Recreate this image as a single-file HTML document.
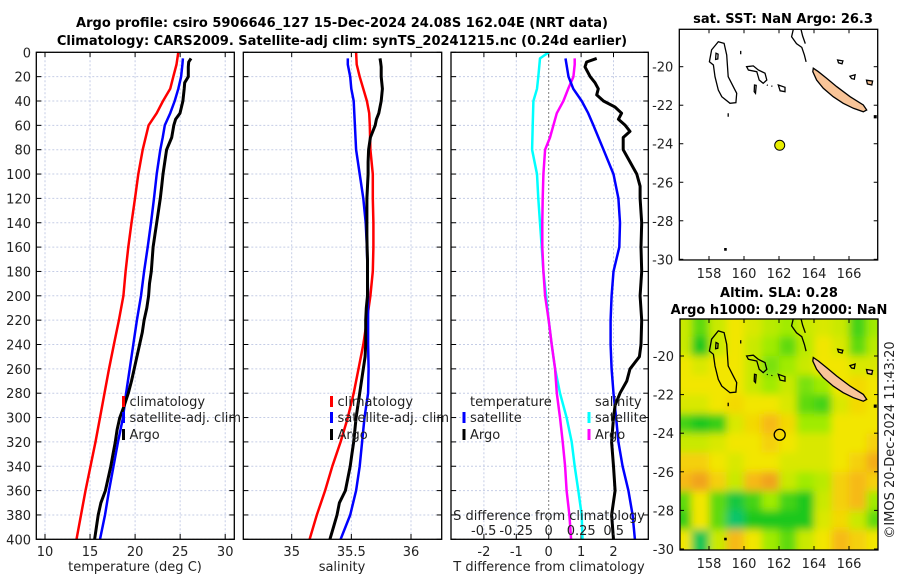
<!DOCTYPE html>
<html><head><meta charset="utf-8"><style>
html,body{margin:0;padding:0;background:#fff}
svg{display:block;font-family:"DejaVu Sans","Liberation Sans",sans-serif}
</style></head><body>
<svg id="fig" width="900" height="580" viewBox="0 0 900 580" xmlns="http://www.w3.org/2000/svg">
<defs>
<clipPath id="c1"><rect x="36.3" y="52.3" width="198" height="487"/></clipPath>
<clipPath id="c2"><rect x="243.3" y="52.3" width="198.4" height="487"/></clipPath>
<clipPath id="c3"><rect x="451" y="52.3" width="197.3" height="487"/></clipPath>
<clipPath id="cm1"><rect x="679.3" y="29.3" width="198.4" height="230.7"/></clipPath>
<clipPath id="cm2"><rect x="680" y="319" width="198" height="231"/></clipPath>
<filter id="blur" x="-10%" y="-10%" width="120%" height="120%"><feGaussianBlur stdDeviation="4"/></filter>
</defs>
<g id="root"></g>
<text x="342" y="27" text-anchor="middle" font-size="13" font-weight="bold">Argo profile: csiro 5906646_127 15-Dec-2024 24.08S 162.04E (NRT data)</text>
<text x="342" y="45" text-anchor="middle" font-size="13" font-weight="bold">Climatology: CARS2009. Satellite-adj clim: synTS_20241215.nc (0.24d earlier)</text>
<text x="135" y="571" text-anchor="middle" font-size="13" fill="#222">temperature (deg C)</text>
<text x="342" y="571" text-anchor="middle" font-size="13" fill="#222">salinity</text>
<text x="549" y="571" text-anchor="middle" font-size="13" fill="#222">T difference from climatology</text>
<text x="549" y="520" text-anchor="middle" font-size="13" fill="#222">S difference from climatology</text>
<text x="783" y="23" text-anchor="middle" font-size="13" font-weight="bold">sat. SST: NaN Argo: 26.3</text>
<text x="779" y="297" text-anchor="middle" font-size="13" font-weight="bold">Altim. SLA: 0.28</text>
<text x="779" y="314" text-anchor="middle" font-size="13" font-weight="bold">Argo h1000: 0.29 h2000: NaN</text>
<text transform="translate(894,440) rotate(-90)" text-anchor="middle" font-size="13" fill="#222">©IMOS 20-Dec-2024 11:43:20</text>
</svg>
<script>
// ---- profile data ----
const depthClim = [0,10,20,30,40,50,60,80,100,120,140,160,180,200,220,240,260,280,300,320,340,360,380,400];
const tempClim = [24.8,24.6,24.24,23.9,23.1,22.4,21.5,20.84,20.36,19.99,19.6,19.25,18.95,18.7,18.2,17.65,17.1,16.6,16.1,15.6,15.05,14.5,14.0,13.5];
const salClim = [35.54,35.545,35.57,35.6,35.63,35.65,35.655,35.66,35.68,35.68,35.685,35.685,35.68,35.66,35.63,35.6,35.56,35.52,35.47,35.41,35.34,35.28,35.21,35.15];
const depthSat = [5,10,20,30,40,50,60,70,80,100,120,140,160,180,200,220,240,260,280,300,320,340,360,380,400];
const tempSat = [25.3,25.25,25.1,24.8,24.4,23.9,23.3,23.06,22.8,22.4,22.1,21.76,21.4,21.0,20.65,20.2,19.8,19.4,19.0,18.66,18.1,17.6,17.1,16.66,16.1];
const salSat = [35.47,35.47,35.49,35.5,35.52,35.525,35.53,35.535,35.54,35.57,35.6,35.62,35.63,35.635,35.64,35.64,35.64,35.645,35.64,35.61,35.59,35.57,35.54,35.49,35.41];
const depthArgo = [5,8,12,20,25,30,40,50,55,60,70,80,90,100,110,120,130,140,150,160,170,180,190,200,210,220,230,240,250,260,270,280,290,300,310,320,330,340,350,360,370,380,390,400];
const tempArgo = [26.2,25.95,25.9,25.9,25.5,25.45,25.3,24.98,24.5,24.3,24.06,23.5,23.3,23.1,22.95,22.8,22.6,22.4,22.2,22.0,21.9,21.8,21.6,21.5,21.3,21.0,20.8,20.5,20.2,19.9,19.6,19.25,18.8,18.3,18.0,17.8,17.55,17.3,17.0,16.7,16.2,15.9,15.7,15.5];
const salArgo = [35.74,35.745,35.75,35.75,35.755,35.76,35.75,35.73,35.71,35.7,35.66,35.645,35.64,35.64,35.635,35.63,35.63,35.63,35.63,35.632,35.635,35.635,35.635,35.635,35.625,35.62,35.62,35.62,35.615,35.6,35.585,35.57,35.555,35.54,35.53,35.52,35.505,35.49,35.47,35.45,35.4,35.38,35.35,35.32];
// ---- difference data ----
const depthTdSat = [5,20,30,40,50,60,80,100,120,140,160,180,200,220,240,260,280,300,320,340,360,380,400];
const tdiffSat = [0.52,0.61,0.76,1.02,1.22,1.38,1.69,2.0,2.15,2.2,2.18,2.0,1.94,1.91,1.91,1.94,2.0,2.08,2.15,2.28,2.46,2.59,2.66];
const depthTdArgo = [5,8,12,20,25,30,35,40,45,50,55,60,65,70,80,90,100,110,120,140,160,180,200,220,240,250,260,270,280,290,300,320,340,360,380,400];
const tdiffArgo = [1.48,1.17,1.12,1.28,1.43,1.53,1.48,1.69,2.05,2.25,2.15,2.36,2.51,2.3,2.3,2.51,2.72,2.82,2.82,2.87,2.85,2.87,2.82,2.87,2.85,2.8,2.51,2.41,2.2,2.05,2.0,1.94,2.0,2.05,1.94,2.0];
const depthSdSat = [0,5,20,30,40,60,80,100,120,140,160,180,200,220,240,260,280,300,320,340,360,380,400];
const sdiffSat = [0,-0.067,-0.08,-0.09,-0.118,-0.123,-0.128,-0.09,-0.08,-0.067,-0.054,-0.041,-0.02,0,0.023,0.049,0.087,0.138,0.177,0.2,0.228,0.254,0.26];
const depthSdArgo = [5,10,20,30,40,50,60,70,80,100,120,140,160,180,200,220,240,260,280,300,320,340,360,380,400];
const sdiffArgo = [0.2,0.2,0.19,0.15,0.113,0.062,0.036,0.01,-0.028,-0.041,-0.046,-0.049,-0.049,-0.041,-0.028,0,0.023,0.049,0.062,0.087,0.108,0.126,0.138,0.159,0.172];
// ---- ticks ----
const depthTicks = [0,20,40,60,80,100,120,140,160,180,200,220,240,260,280,300,320,340,360,380,400];
const tempTicks = [10,15,20,25,30];
const salTicks = [35,35.5,36];
const salTickLabels = ["35","35.5","36"];
const tdiffTicks = [-2,-1,0,1,2];
const sdiffTicks = [-0.5,-0.25,0,0.25,0.5];
const sdiffTickLabels = ["-0.5","-0.25","0","0.25","0.5"];
// ---- SLA map data ----
const slaLons = [156.5,157.5,158.5,159.5,160.5,161.5,162.5,163.5,164.5,165.5,166.5,167.5];
const slaLats = [-18.5,-19.5,-20.5,-21.5,-22.5,-23.5,-24.5,-25.5,-26.5,-27.5,-28.5,-29.5];
const slaRow1 = [0.1,0.0,0.1,0.15,0.12,0.08,0.05,0.1,0.12,0.1,-0.02,0.05];
const slaRow2 = [0.1,-0.05,0.1,0.15,0.1,0.05,0.0,0.08,0.15,0.12,0.0,0.08];
const slaRow3 = [0.15,0.12,0.15,0.15,0.1,0.02,0.05,0.1,0.15,0.15,0.12,0.12];
const slaRow4 = [0.15,0.15,0.15,0.15,0.1,0.05,0.1,0.02,0.05,0.15,0.18,0.15];
const slaRow5 = [0.12,0.12,0.15,0.18,0.15,0.15,0.12,0.0,-0.02,0.12,0.18,0.15];
const slaRow6 = [-0.02,-0.05,-0.03,0.12,0.18,0.25,0.18,0.05,0.05,0.15,0.15,0.15];
const slaRow7 = [0.1,0.1,0.12,0.15,0.15,0.2,0.15,0.12,0.12,0.15,0.15,0.2];
const slaRow8 = [0.2,0.2,0.15,0.12,0.15,0.15,0.12,0.12,0.12,0.15,0.2,0.28];
const slaRow9 = [0.25,0.3,0.2,0.1,0.25,0.3,0.1,0.05,0.08,0.2,0.25,0.2];
const slaRow10 = [0.0,0.15,0.0,-0.08,-0.02,0.05,-0.02,-0.05,0.1,0.2,0.25,0.05];
const slaRow11 = [-0.03,0.15,0.0,-0.12,-0.05,-0.05,-0.05,-0.05,0.12,0.18,0.1,0.0];
const slaRow12 = [0.15,-0.1,0.1,0.25,0.15,0.05,0.0,0.1,0.15,0.25,0.2,0.15];
const slaRows = [slaRow1,slaRow2,slaRow3,slaRow4,slaRow5,slaRow6,slaRow7,slaRow8,slaRow9,slaRow10,slaRow11,slaRow12];
const profLon = 162.04, profLat = -24.08;
const latTicks = [-20,-22,-24,-26,-28,-30];
const lonTicks = [158,160,162,164,166];

const NS = "http://www.w3.org/2000/svg";
const root = document.getElementById('root');
function mk(tag, attrs, parent){const e=document.createElementNS(NS,tag);for(const k in attrs)e.setAttribute(k,attrs[k]);(parent||root).appendChild(e);return e;}
function txt(x,y,s,anchor,size,parent){const t=mk('text',{x:x,y:y,'text-anchor':anchor,'font-size':size,fill:'#222'},parent);t.textContent=s;return t;}

const yDepth = d => 52.3 + d*1.2175;
const xTemp = t => 45 + (t-10)*9.01;
const xSal = s => 291.7 + (s-35)*119.3;
const xTd = d => 548.7 + d*32.4;
const xSd = s => 548.7 + s*130;

function panel(x0,x1,name,clip,xticks,xfn){
  const g = mk('g',{});
  
  
  xticks.forEach(v=>{ if(v!==0 || name!=='difference-panel') mk('line',{x1:xfn(v),x2:xfn(v),y1:52.3,y2:539.3,stroke:'#c5cde6','stroke-width':1,'stroke-dasharray':'2,2'},g); });
  depthTicks.forEach(d=>{ mk('line',{x1:x0,x2:x1,y1:yDepth(d),y2:yDepth(d),stroke:'#c5cde6','stroke-width':1,'stroke-dasharray':'2,2'},g);
    mk('line',{x1:x0,x2:x0+5,y1:yDepth(d),y2:yDepth(d),stroke:'#000'},g);
    mk('line',{x1:x1-5,x2:x1,y1:yDepth(d),y2:yDepth(d),stroke:'#000'},g);});
  xticks.forEach(v=>{ mk('line',{x1:xfn(v),x2:xfn(v),y1:539.3,y2:534,stroke:'#000'},g); mk('line',{x1:xfn(v),x2:xfn(v),y1:52.3,y2:57,stroke:'#000'},g);});
  return g;
}
function series(g,depths,vals,xfn,color,w,name,clip){
  const pts = depths.map((d,i)=>xfn(vals[i]).toFixed(1)+','+yDepth(d).toFixed(1)).join(' ');
  const p = mk('polyline',{points:pts,fill:'none',stroke:color,'stroke-width':w,'stroke-linejoin':'round','clip-path':'url(#'+clip+')'},g);
  
  
}
function frame(g,x0,x1){ mk('rect',{x:x0,y:52.3,width:x1-x0,height:487,fill:'none',stroke:'#000','stroke-width':1.3},g); }
function legendItem(g,mx,y,color,label,name){
  mk('line',{x1:mx,x2:mx,y1:y-10,y2:y+1,stroke:color,'stroke-width':3},g);
  const t = txt(mx+6,y,label,'start',13,g);
  
  
}

const g1 = panel(36.3,234.3,'temperature-panel','c1',tempTicks,xTemp);
series(g1,depthClim,tempClim,xTemp,'#f00',2.5,'temperature-climatology-line','c1');
series(g1,depthSat,tempSat,xTemp,'#00f',2.5,'temperature-satellite-line','c1');
series(g1,depthArgo,tempArgo,xTemp,'#000',3,'temperature-argo-line','c1');
frame(g1,36.3,234.3);
depthTicks.forEach(d=>txt(31,yDepth(d)+5,String(d),'end',13,g1));
tempTicks.forEach(v=>txt(xTemp(v),556,String(v),'middle',13,g1));
legendItem(g1,123.5,406,'#f00','climatology','legend-climatology');
legendItem(g1,123.5,422,'#00f','satellite-adj. clim','legend-satellite-adj');
legendItem(g1,123.5,439,'#000','Argo','legend-argo');

const g2 = panel(243.3,441.7,'salinity-panel','c2',salTicks,xSal);
series(g2,depthClim,salClim,xSal,'#f00',2.5,'salinity-climatology-line','c2');
series(g2,depthSat,salSat,xSal,'#00f',2.5,'salinity-satellite-line','c2');
series(g2,depthArgo,salArgo,xSal,'#000',3,'salinity-argo-line','c2');
frame(g2,243.3,441.7);
salTicks.forEach((v,i)=>txt(xSal(v),556,salTickLabels[i],'middle',13,g2));
legendItem(g2,331.5,406,'#f00','climatology','legend-sal-climatology');
legendItem(g2,331.5,422,'#00f','satellite-adj. clim','legend-sal-satellite-adj');
legendItem(g2,331.5,439,'#000','Argo','legend-sal-argo');

const g3 = panel(451,648.3,'difference-panel','c3',tdiffTicks,xTd);
mk('line',{x1:xTd(0),x2:xTd(0),y1:52.3,y2:539.3,stroke:'#555','stroke-width':1,'stroke-dasharray':'1.5,2.5'},g3);
series(g3,depthSdSat,sdiffSat,xSd,'#0ff',2.5,'salinity-diff-satellite-line','c3');
series(g3,depthSdArgo,sdiffArgo,xSd,'#f0f',2.5,'salinity-diff-argo-line','c3');
series(g3,depthTdSat,tdiffSat,xTd,'#00f',2.5,'temperature-diff-satellite-line','c3');
series(g3,depthTdArgo,tdiffArgo,xTd,'#000',3,'temperature-diff-argo-line','c3');
frame(g3,451,648.3);
tdiffTicks.forEach(v=>txt(xTd(v),556,String(v),'middle',13,g3));
sdiffTicks.forEach((v,i)=>txt(xSd(v),535,sdiffTickLabels[i],'middle',13,g3));
txt(470,406,'temperature','start',13,g3);
txt(595,406,'salinity','start',13,g3);
legendItem(g3,464,422,'#00f','satellite','legend-tdiff-satellite');
legendItem(g3,464,439,'#000','Argo','legend-tdiff-argo');
legendItem(g3,589,422,'#0ff','satellite','legend-sdiff-satellite');
legendItem(g3,589,439,'#f0f','Argo','legend-sdiff-argo');

const coast = [
 {fill:'none',close:true,pts:[[158.53,-18.70],[158.86,-18.79],[159.01,-19.39],[159.10,-20.52],[159.39,-21.04],[159.58,-21.38],[159.54,-21.87],[159.2,-21.9],[158.73,-21.56],[158.53,-21.21],[158.34,-20.52],[158.25,-19.91],[158.02,-19.74],[158.15,-19.13]]},
 {fill:'none',close:true,pts:[[158.4,-19.3],[158.52,-19.35],[158.5,-19.6],[158.38,-19.62]]},
 {fill:'none',close:false,pts:[[159.81,-19.18],[159.81,-19.35]]},
 {fill:'none',close:false,pts:[[159.1,-22.42],[159.1,-22.6]]},
 {fill:'#000',close:true,pts:[[158.9,-29.45],[158.98,-29.45],[158.98,-29.52],[158.9,-29.52]]},
 {fill:'none',close:true,pts:[[160.15,-20.0],[160.53,-19.96],[160.82,-20.17],[161.2,-20.34],[161.3,-20.69],[161.1,-20.86],[160.87,-20.69],[160.73,-20.26],[160.25,-20.17]]},
 {fill:'none',close:true,pts:[[160.6,-20.95],[160.7,-20.97],[160.66,-21.38],[160.58,-21.3]]},
 {fill:'none',close:false,pts:[[161.3,-20.95],[161.36,-20.97]]},
 {fill:'none',close:false,pts:[[161.56,-21.0],[161.62,-21.02]]},
 {fill:'none',close:true,pts:[[161.96,-20.95],[162.34,-21.07],[162.34,-21.3],[162.06,-21.25]]},
 {fill:'none',close:false,pts:[[162.82,-18.06],[162.72,-18.44],[163.0,-18.8],[163.3,-19.0],[163.45,-19.4],[163.55,-19.75]]},
 {fill:'none',close:false,pts:[[163.26,-18.06],[163.35,-18.4],[163.5,-18.8]]},
 {fill:'#f8c498',close:true,pts:[[163.96,-20.08],[164.25,-20.26],[164.72,-20.6],[165.3,-21.04],[166.06,-21.56],[166.82,-21.99],[167.01,-22.25],[166.82,-22.34],[166.25,-22.16],[165.67,-21.9],[165.1,-21.56],[164.53,-21.12],[164.15,-20.69],[163.93,-20.26]]},
 {fill:'none',close:true,pts:[[165.35,-19.65],[165.65,-19.7],[165.6,-19.85],[165.4,-19.8]]},
 {fill:'none',close:true,pts:[[166.05,-20.5],[166.35,-20.42],[166.3,-20.65],[166.15,-20.62]]},
 {fill:'#f8c498',close:true,pts:[[167.0,-20.7],[167.35,-20.75],[167.3,-20.95],[167.05,-20.9]]},
 {fill:'#000',close:true,pts:[[167.45,-22.55],[167.55,-22.55],[167.55,-22.65],[167.45,-22.65]]}
];
function mapAxes(name,fx,x0,x1,y0,y1,lonF,latF,clip,bg){
  const g = mk('g',{});
  
  
  if(bg) bg(g);
  coast.forEach(c=>{
    const pts=c.pts.map(p=>lonF(p[0]).toFixed(1)+','+latF(p[1]).toFixed(1)).join(' ');
    mk(c.close?'polygon':'polyline',{points:pts,fill:c.fill,stroke:'#000','stroke-width':1.3,'clip-path':'url(#'+clip+')'},g);
  });
  mk('rect',{x:x0,y:y0,width:x1-x0,height:y1-y0,fill:'none',stroke:'#000','stroke-width':1.3},g);
  latTicks.forEach(v=>{const y=latF(v);mk('line',{x1:x0,x2:x0+4,y1:y,y2:y,stroke:'#000'},g);mk('line',{x1:x1-4,x2:x1,y1:y,y2:y,stroke:'#000'},g);txt(x0-6,y+5,String(v),'end',13,g);});
  lonTicks.forEach(v=>{const x=lonF(v);mk('line',{x1:x,x2:x,y1:y1,y2:y1-4,stroke:'#000'},g);mk('line',{x1:x,x2:x,y1:y0,y2:y0+4,stroke:'#000'},g);txt(x,y1+18,String(v),'middle',13,g);});
  return g;
}
const lonF = l => 779 + (l-162)*17.5;
const latF1 = l => 66.7 - (l+20)*19.26;
const latF2 = l => 356 - (l+20)*19.3;

const m1 = mapAxes('sst-map',null,679.3,877.7,29.3,260,lonF,latF1,'cm1',null);
const dot = mk('circle',{cx:lonF(profLon),cy:latF1(profLat),r:5,fill:'#e8ee00',stroke:'#000','stroke-width':1},m1);



const stops=[[-0.15,[10,195,140]],[-0.05,[30,200,30]],[0.05,[160,235,0]],[0.15,[242,230,0]],[0.25,[246,185,20]],[0.35,[236,140,35]]];
function col(v){
  if(v<=stops[0][0])return 'rgb('+stops[0][1]+')';
  for(let i=1;i<stops.length;i++){if(v<=stops[i][0]){const a=stops[i-1],b=stops[i],t=(v-a[0])/(b[0]-a[0]);return 'rgb('+a[1].map((c,k)=>Math.round(c+(b[1][k]-c)*t)).join(',')+')';}}
  return 'rgb('+stops[stops.length-1][1]+')';
}
const m2 = mapAxes('sla-map',null,680,878,319,550,lonF,latF2,'cm2',function(g){
  const cg = mk('g',{'clip-path':'url(#cm2)'},g);
  mk('rect',{x:680,y:319,width:198,height:231,fill:col(0.15)},cg);
  const bg = mk('g',{filter:'url(#blur)'},cg);
  slaRows.forEach((row,r)=>row.forEach((v,c)=>{
    let xa=lonF(slaLons[c]-0.5), xb=lonF(slaLons[c]+0.5), ya=latF2(slaLats[r]+0.5), yb=latF2(slaLats[r]-0.5);
    if(c===0)xa-=25; if(c===row.length-1)xb+=25; if(r===0)ya-=25; if(r===slaRows.length-1)yb+=25;
    const cell = mk('rect',{x:xa,y:ya,width:xb-xa+0.6,height:yb-ya+0.6,fill:col(v)},bg);
    
    
  }));
});
const ring = mk('circle',{cx:lonF(profLon),cy:latF2(profLat),r:5.5,fill:'none',stroke:'#000','stroke-width':1.3},m2);


</script>
</body></html>
